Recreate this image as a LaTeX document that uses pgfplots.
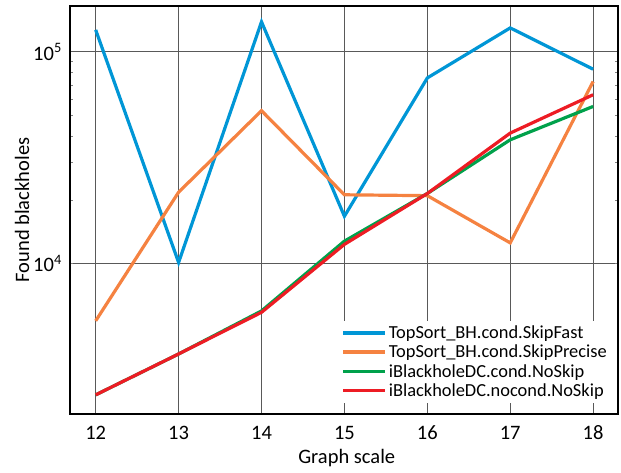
\documentclass[border=0pt]{standalone}
\usepackage{pgfplots}
\pgfplotsset{compat=1.18}
\usepackage{fontspec}
\setmainfont{Carlito}
\definecolor{cblue}{RGB}{0,150,214}
\definecolor{corange}{RGB}{245,130,65}
\definecolor{cgreen}{RGB}{0,161,75}
\definecolor{cred}{RGB}{237,28,36}
\begin{document}
\begin{tikzpicture}
\begin{axis}[
  name=ax,
  scale only axis,
  width=548pt, height=408pt,
  ymode=log,
  xmin=11.69, xmax=18.3,
  ymin=1941, ymax=164800,
  xtick={12,13,14,15,16,17,18},
  xticklabels={12,13,14,15,16,17,18},
  ytick={10000,100000},
  yticklabels={10\textsuperscript{4},10\textsuperscript{5}},
  major tick length=0pt,
  grid=major,
  major grid style={black!65, line width=0.9pt},
  axis line style={black, line width=1.6pt},
  tick label style={font=\fontsize{20.5}{24}\selectfont},
  xticklabel style={anchor=center, yshift=-19pt},
  yticklabel style={anchor=east, inner sep=0pt, xshift=-8pt},
  xlabel={Graph scale},
  ylabel={Found blackholes},
  label style={font=\fontsize{20.5}{24}\selectfont},
  xlabel style={at={(axis description cs:0.505,-0.108)}, anchor=center},
  ylabel style={at={(axis description cs:-0.0876,0.5)}, anchor=center},
  legend style={at={(axis description cs:0.989,0.027)}, anchor=south east, draw=none, fill=white,
    font=\fontsize{18.4}{22}\selectfont, row sep=1pt, inner sep=3pt},
  legend cell align=left,
  legend image code/.code={\draw[#1, line width=3.6pt] (0pt,0pt) -- (42pt,0pt);},
  every axis plot/.append style={line width=3.2pt, line join=miter},
]
\addplot[cblue] coordinates {(12,127000) (13,10100) (14,138700) (15,16700) (16,75300) (17,129800) (18,82800)};
\addlegendentry{TopSort\_BH.cond.SkipFast}
\addplot[corange] coordinates {(12,5350) (13,21700) (14,52700) (15,21100) (16,20900) (17,12500) (18,72400)};
\addlegendentry{TopSort\_BH.cond.SkipPrecise}
\addplot[cgreen] coordinates {(12,2390) (13,3730) (14,5960) (15,12740) (16,21400) (17,38400) (18,55200)};
\addlegendentry{iBlackholeDC.cond.NoSkip}
\addplot[cred] coordinates {(12,2390) (13,3730) (14,5870) (15,12300) (16,21400) (17,41300) (18,62700)};
\addlegendentry{iBlackholeDC.nocond.NoSkip}
\end{axis}
\pgfresetboundingbox
\path ([shift={(-70pt,-59pt)}]ax.south west) rectangle ([shift={(3pt,6pt)}]ax.north east);
\end{tikzpicture}
\end{document}
